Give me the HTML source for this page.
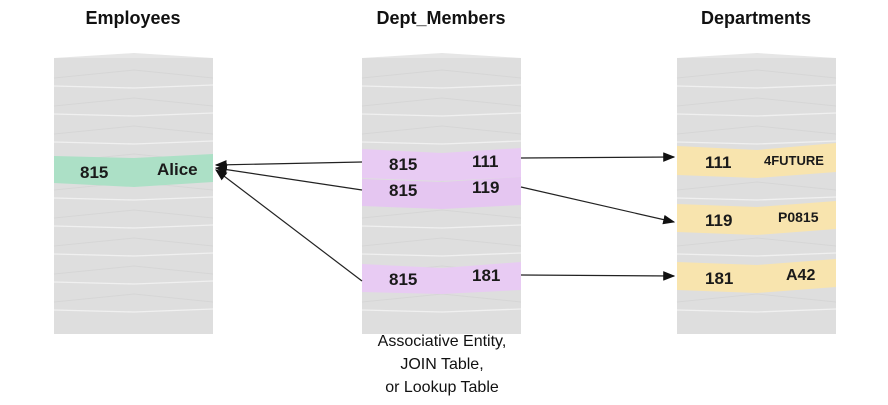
<!DOCTYPE html>
<html><head><style>body{margin:0;background:#fff}svg{display:block}</style></head><body>
<svg width="888" height="405" xmlns="http://www.w3.org/2000/svg" font-family="Liberation Sans, sans-serif">
<defs>
<marker id="a" markerWidth="10" markerHeight="8" refX="9" refY="4" orient="auto"><path d="M0,0 L10,4 L0,8 z" fill="#111"/></marker>
<g id="stack">
<rect x="0" y="0" width="159" height="276" fill="#dedede"/>
<path d="M0,0 L80,-5 L159,0" fill="#e6e6e6"/>
<g stroke="#f0f0f0" stroke-width="1.3" fill="none">
<path d="M0,28 L80,30 L159,27"/><path d="M0,56 L80,58 L159,55"/><path d="M0,84 L80,86 L159,83"/>
<path d="M0,112 L80,114 L159,111"/><path d="M0,140 L80,142 L159,139"/><path d="M0,168 L80,170 L159,167"/>
<path d="M0,196 L80,198 L159,195"/><path d="M0,224 L80,226 L159,223"/><path d="M0,252 L80,254 L159,251"/>
</g>
<g stroke="#d6d6d6" stroke-width="1" fill="none">
<path d="M0,20 L80,12 L159,20"/><path d="M0,48 L80,40 L159,48"/><path d="M0,76 L80,68 L159,76"/>
<path d="M0,104 L80,96 L159,104"/><path d="M0,132 L80,124 L159,132"/><path d="M0,160 L80,152 L159,160"/>
<path d="M0,188 L80,180 L159,188"/><path d="M0,216 L80,208 L159,216"/><path d="M0,244 L80,236 L159,244"/>
</g>
</g>
</defs>
<g font-weight="bold" font-size="18" text-anchor="middle" fill="#111">
<text x="133" y="24">Employees</text><text x="441" y="24">Dept_Members</text><text x="756" y="24">Departments</text>
</g>
<use href="#stack" x="54" y="58"/><use href="#stack" x="362" y="58"/><use href="#stack" x="677" y="58"/>
<path d="M54,156 L134,158 L213,154 L213,182 L134,187 L54,183z" fill="#ace0c6"/>
<path d="M362,149 L442,153 L521,148 L521,177 L442,181 L362,178z" fill="#e8cbf3"/>
<path d="M362,179 L442,182 L521,177 L521,205 L442,209 L362,206z" fill="#e5c6f1"/>
<path d="M362,264 L442,268 L521,262 L521,290 L442,294 L362,292z" fill="#e8cbf3"/>
<path d="M677,146 L757,150 L836,143 L836,172 L757,178 L677,175z" fill="#f8e4ae"/>
<path d="M677,204 L757,207 L836,201 L836,229 L757,235 L677,232z" fill="#f8e4ae"/>
<path d="M677,262 L757,265 L836,259 L836,287 L757,293 L677,290z" fill="#f8e4ae"/>
<g font-weight="bold" font-size="17" fill="#1a1a1a">
<text x="80" y="178">815</text><text x="157" y="175">Alice</text>
<text x="389" y="170">815</text><text x="472" y="167">111</text>
<text x="389" y="196">815</text><text x="472" y="193">119</text>
<text x="389" y="285">815</text><text x="472" y="281">181</text>
<text x="705" y="168">111</text><text x="764" y="165" font-size="13">4FUTURE</text>
<text x="705" y="226">119</text><text x="778" y="222" font-size="14">P0815</text>
<text x="705" y="284">181</text><text x="786" y="280" font-size="16">A42</text>
</g>
<g stroke="#222" stroke-width="1.2" fill="none" marker-end="url(#a)">
<path d="M362,162 L216,165"/><path d="M362,190 L216,168"/><path d="M362,281 L216,170"/>
<path d="M521,158 L674,157"/><path d="M521,187 L674,222"/><path d="M521,275 L674,276"/>
</g>
<g font-size="16" text-anchor="middle" fill="#111">
<text x="442" y="346">Associative Entity,</text><text x="442" y="369">JOIN Table,</text><text x="442" y="392">or Lookup Table</text>
</g>
</svg>
</body></html>
